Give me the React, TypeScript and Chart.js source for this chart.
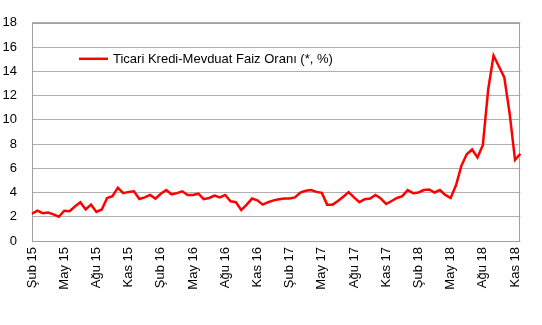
import React, { useEffect, useRef } from 'react';
import { Chart, registerables } from 'chart.js';

Chart.register(...registerables);

const seriesLabel = 'Ticari Kredi-Mevduat Faiz Oranı (*, %)';

// quarter tick labels (every 6 half-month periods)
const quarterLabels = [
  'Şub 15', 'May 15', 'Ağu 15', 'Kas 15',
  'Şub 16', 'May 16', 'Ağu 16', 'Kas 16',
  'Şub 17', 'May 17', 'Ağu 17', 'Kas 17',
  'Şub 18', 'May 18', 'Ağu 18', 'Kas 18',
];

// half-monthly spread values from Feb 2015 to Nov 2018
const spreadValues = [
  2.25, 2.5, 2.3, 2.35, 2.2, 2.0, 2.5, 2.45, 2.85, 3.2,
  2.6, 3.0, 2.4, 2.6, 3.55, 3.7, 4.4, 3.95, 4.05, 4.1,
  3.47, 3.6, 3.8, 3.5, 3.9, 4.2, 3.85, 3.95, 4.1, 3.8,
  3.8, 3.9, 3.45, 3.55, 3.75, 3.6, 3.8, 3.28, 3.2, 2.55,
  3.0, 3.5, 3.35, 3.0, 3.2, 3.35, 3.45, 3.5, 3.5, 3.6,
  4.0, 4.15, 4.2, 4.05, 3.97, 3.0, 3.0, 3.3, 3.65, 4.03,
  3.6, 3.2, 3.45, 3.5, 3.8, 3.5, 3.05, 3.3, 3.55, 3.7,
  4.2, 3.95, 4.0, 4.2, 4.25, 4.0, 4.2, 3.8, 3.55, 4.6,
  6.2, 7.15, 7.55, 6.9, 7.9, 12.5, 15.3, 14.4, 13.5, 10.5,
  6.7, 7.2,
];

const yMin = 0;
const yMax = 18;
const yStep = 2;
const periodsPerLabel = 6;

const FONT = "'Liberation Sans', Arial, Helvetica, sans-serif";

const framePlugin = {
  id: 'frame',
  beforeDatasetsDraw(chart: any) {
    const { ctx, chartArea: a } = chart;
    ctx.save();
    ctx.strokeStyle = '#a0a0a0';
    ctx.lineWidth = 1;
    ctx.strokeRect(Math.round(a.left) + 0.5, Math.round(a.top) + 0.5, Math.round(a.right - a.left) - 1, Math.round(a.bottom - a.top));
    ctx.restore();
  },
  afterDraw(chart: any) {
    const { ctx, chartArea: a } = chart;
    const ds = chart.data.datasets[0];
    const ly = a.top + 36;
    ctx.save();
    ctx.strokeStyle = ds.borderColor;
    ctx.lineWidth = 2.5;
    ctx.beginPath();
    ctx.moveTo(a.left + 47, ly);
    ctx.lineTo(a.left + 76, ly);
    ctx.stroke();
    ctx.fillStyle = '#000';
    ctx.font = `13px ${FONT}`;
    ctx.textBaseline = 'middle';
    ctx.textAlign = 'left';
    ctx.fillText(ds.label, a.left + 81, ly + 1);
    ctx.restore();
  },
};

export default function App() {
  const ref = useRef<HTMLCanvasElement | null>(null);

  useEffect(() => {
    document.body.style.margin = '0';
    const labels = spreadValues.map((_, i) =>
      i % periodsPerLabel === 0 && quarterLabels[i / periodsPerLabel] ? quarterLabels[i / periodsPerLabel] : ''
    );
    const chart = new Chart(ref.current as HTMLCanvasElement, {
      type: 'line',
      data: {
        labels,
        datasets: [
          {
            label: seriesLabel,
            data: spreadValues,
            borderColor: '#ff0000',
            borderWidth: 2.5,
            pointRadius: 0,
            tension: 0,
            fill: false,
          },
        ],
      },
      options: {
        animation: false,
        responsive: false,
        layout: { padding: { top: 16, right: 18, left: 0, bottom: 0 } },
        plugins: { legend: { display: false }, tooltip: { enabled: false } },
        scales: {
          x: {
            offset: false,
            grid: { display: false, drawTicks: false },
            border: { display: false },
            afterFit: (s: any) => { s.height = 84; },
            ticks: {
              autoSkip: false,
              maxRotation: 90,
              minRotation: 90,
              padding: 6,
              color: '#000',
              font: { family: FONT, size: 13 },
            },
          },
          y: {
            min: yMin,
            max: yMax,
            grid: { color: '#b0b0b0', lineWidth: 1, drawTicks: false },
            border: { display: false },
            afterFit: (s: any) => { s.width = 32; },
            ticks: {
              stepSize: yStep,
              padding: 15,
              color: '#000',
              font: { family: FONT, size: 13 },
            },
          },
        },
      },
      plugins: [framePlugin],
    });
    return () => chart.destroy();
  }, []);

  return (
    <div style={{ width: 542, height: 325, background: '#fff' }}>
      <canvas ref={ref} width={542} height={325} />
    </div>
  );
}
